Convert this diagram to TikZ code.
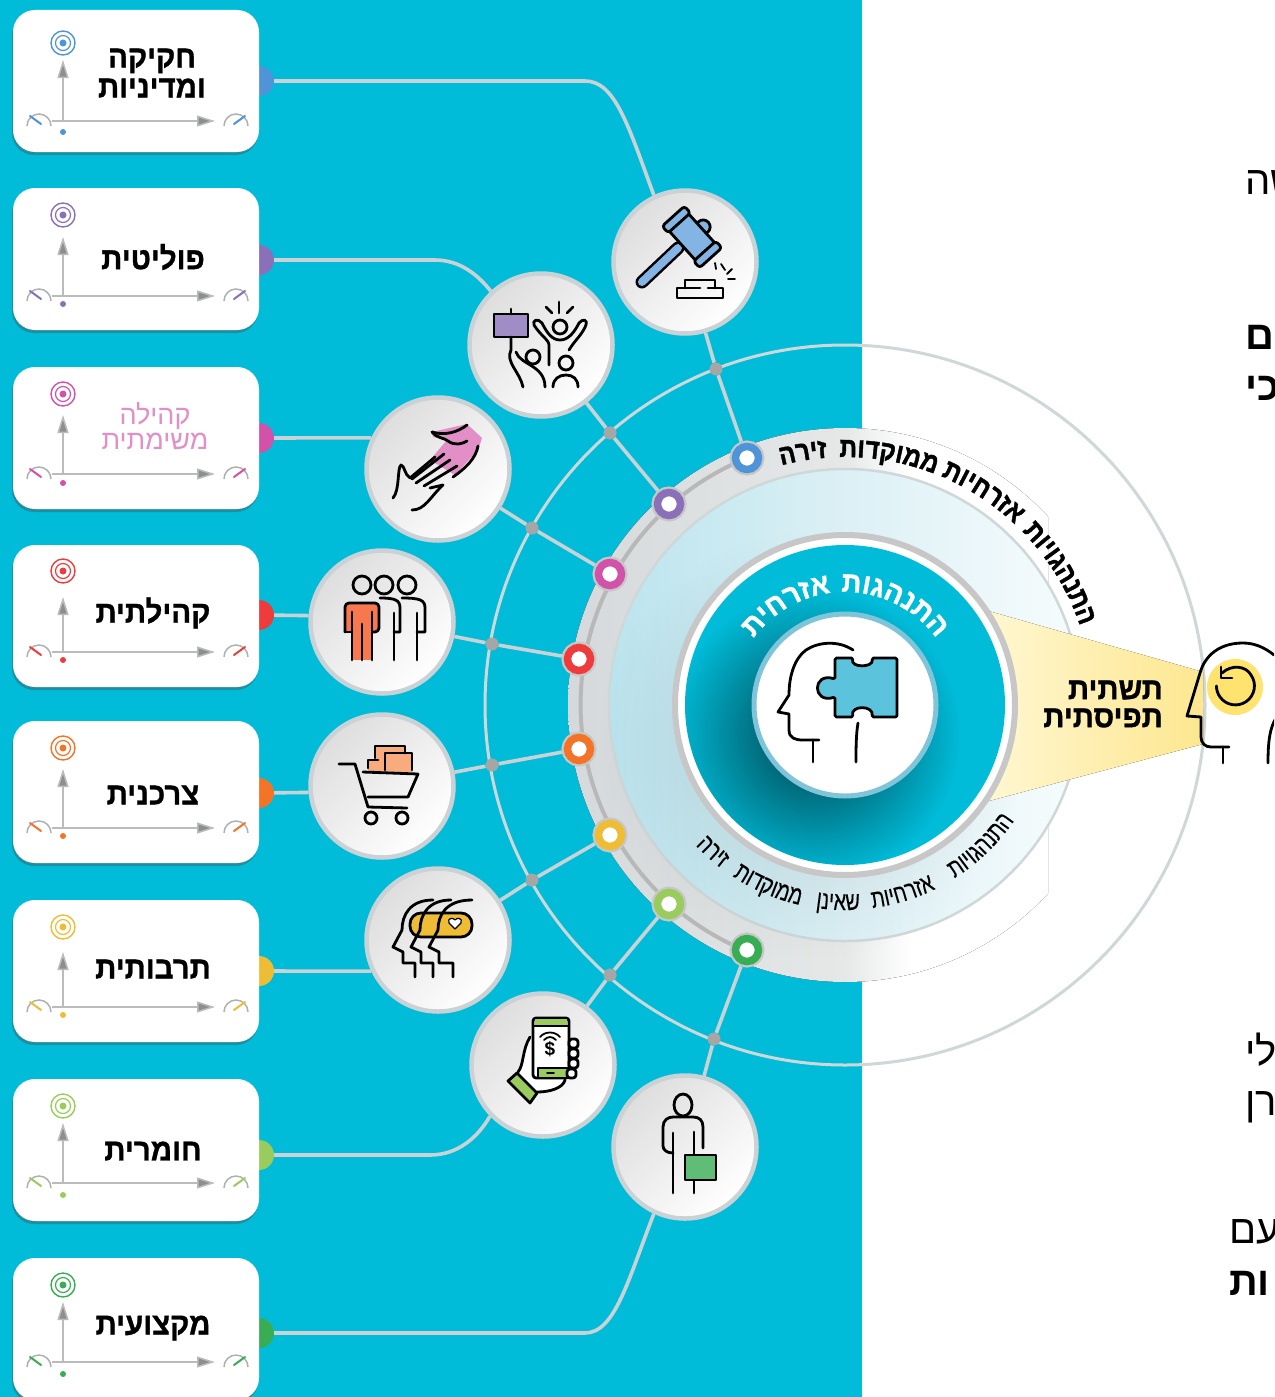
\documentclass[tikz,border=0pt]{standalone}
\usepackage{fontspec}
\setmainfont{Liberation Sans}
\newfontfamily\titlefont[Script=Hebrew,FakeStretch=0.95,FakeBold=1,UprightFont={* Bold}]{Liberation Sans}
\newfontfamily\bandfont[Script=Hebrew,FakeStretch=0.87,FakeBold=1.5,UprightFont={* Bold}]{Liberation Sans}
\newfontfamily\thinfont[Script=Hebrew,FakeStretch=0.76,FakeBold=0.2]{Liberation Sans}
\newfontfamily\plainfont[Script=Hebrew]{Liberation Sans}
\newfontfamily\blackfont[Script=Hebrew,UprightFont={* Bold}]{Liberation Sans}
\usetikzlibrary{arrows.meta,shadows,fadings,decorations.text}
\TeXXeTstate=1
\newcommand{\heb}[1]{\beginR #1\endR}
\definecolor{seablue}{HTML}{00BCD9}
\definecolor{wiregray}{HTML}{CBD2D5}
\definecolor{ringgray}{HTML}{CFD8D8}
\definecolor{arrowgray}{HTML}{8C8E90}
\definecolor{bandL}{HTML}{D5D9DB}
\definecolor{bandM}{HTML}{E6E8E8}
\definecolor{lightL}{HTML}{BBE4EE}
\definecolor{lightM}{HTML}{DCF0F5}
\definecolor{lightR}{HTML}{F7FCFD}
\definecolor{cblue}{HTML}{4F94D8}
\definecolor{cpurple}{HTML}{8A70B8}
\definecolor{cpink}{HTML}{D152A8}
\definecolor{cred}{HTML}{EE3B3B}
\definecolor{corange}{HTML}{F37327}
\definecolor{cyellow}{HTML}{EFBC35}
\definecolor{clime}{HTML}{99CC5C}
\definecolor{cgreen}{HTML}{38AD53}
\definecolor{wedgeL}{HTML}{FFF7D2}
\definecolor{wedgeR}{HTML}{FDE78F}
\definecolor{headyellow}{HTML}{FEE36E}
\definecolor{puzzleblue}{HTML}{5CC3DC}
\definecolor{hubring}{HTML}{7FC4D8}
\pgfdeclarehorizontalshading{bandshade}{100bp}{color(0bp)=(bandL);color(25bp)=(bandL);color(50bp)=(bandM);color(56bp)=(white);color(100bp)=(white)}
\pgfdeclarehorizontalshading{lightshade}{100bp}{color(0bp)=(lightL);color(25bp)=(lightL);color(50bp)=(lightM);color(75bp)=(lightR);color(100bp)=(lightR)}
\tikzfading[name=softfade,inner color=transparent!45,outer color=transparent!100]
\tikzfading[name=darkfade,inner color=transparent!0,outer color=transparent!100]
\newcommand{\arcword}[5]{\path[decorate, decoration={text effects along path, text={#5}, text align=center, text effects/.cd, reverse text, characters={text along path, #4}, character widths={text along path, #4}}] (845,705) ++(#1:#3) arc[start angle=#1,end angle=#2,radius=#3];}
\newcommand{\cardaxes}[6]{%
\coordinate (#1origin) at (63,#3);
\coordinate (#1tip) at (63,#2);
\coordinate (#1left) at (52,#3);
\coordinate (#1right) at (215,#3);
\draw[axisline] (#1origin) -- (#1tip);
\draw[axisline] (#1left) -- (#1right);
\draw[#5,line width=1.4pt] (63,#4) circle (12);
\draw[#5,line width=1.2pt] (63,#4) circle (7.5);
\fill[#5] (63,#4) circle (3.5);
\fill[#5] (63,#6) circle (3);
\draw[gaugeline] (27,#3+5) arc[start angle=180,end angle=360,radius=12];
\draw[gaugeline] (224,#3+5) arc[start angle=180,end angle=360,radius=12];
\draw[#5,line width=2pt,line cap=round] (41,#3+3) -- (30,#3-5);
\draw[#5,line width=2pt,line cap=round] (234,#3+3) -- (245,#3-5);
}
\begin{document}
\begin{tikzpicture}[x=1pt,y=-1pt]
\tikzset{
wire/.style={draw=wiregray, line width=3.6pt},
ringline/.style={draw=ringgray, line width=3pt},
axisline/.style={draw=arrowgray!60, line width=1.5pt, -{Triangle[length=18pt,width=11pt,fill=arrowgray]}},
gaugeline/.style={draw=arrowgray!70, line width=1.5pt},
iconline/.style={draw=black, line width=2.8pt, line cap=round, line join=round},
cardbox/.style={rectangle, fill=white, rounded corners=22pt, minimum width=246pt, minimum height=142pt, general shadow={fill=black!70, opacity=0.4, shadow yshift=-3pt, shadow xshift=-1pt}},
tabdot/.style={circle, fill=#1, minimum size=30pt, inner sep=0pt},
cardtitle/.style={align=center, inner sep=0pt, font=\titlefont\fontsize{31}{30}\selectfont},
iconbox/.style={circle, draw=wiregray, line width=4.5pt, minimum size=143pt, inner sep=0pt, left color=black!13, right color=white, shading angle=45},
junction/.style={circle, fill=black!35, minimum size=13pt, inner sep=0pt},
ringdot/.style={circle, fill=white, draw=#1, line width=7.5pt, minimum size=23pt, inner sep=0pt, outer sep=6pt, preaction={draw=black!22, line width=12pt}},
edgetext/.style={anchor=west, inner sep=0pt, font=\plainfont\fontsize{40}{44}\selectfont},
edgebold/.style={anchor=west, inner sep=0pt, font=\blackfont\fontsize{40}{44}\selectfont}
}
\clip (0,0) rectangle (1274,1397);
\fill[white] (0,0) rectangle (1274,1397);
\fill[seablue] (0,0) rectangle (862,1397);

\draw[ringline] (845,705) circle (360);
\begin{scope}
\clip (0,0) rectangle (1048,1397);
\fill[shading=bandshade] (845,705) circle (277);
\end{scope}
\draw[draw=black!28, line width=4pt] (747,458) arc[start angle=248,end angle=112,radius=266];
\fill[shading=lightshade] (845,705) circle (236);
\draw[draw=ringgray, line width=2.5pt] (845,705) circle (236);
\fill[black, opacity=0.2, path fading=softfade] (810,745) circle (215);
\fill[left color=wedgeL, right color=wedgeR] (985,610) -- (1203,672) -- (1203,744) -- (985,802) -- cycle;
\fill[white] (845,705) circle (169);
\draw[draw=black!22, line width=6pt] (845,705) circle (170);
\fill[seablue] (845,705) circle (160);
\begin{scope}
\clip (845,705) circle (160);
\fill[black!70!seablue, opacity=0.95, path fading=darkfade] (815,735) circle (145);
\end{scope}
\fill[white] (845,705) circle (91);
\draw[draw=hubring, line width=5pt] (845,705) circle (91);

\arcword{220.5}{300.5}{248}{font=\bandfont\fontsize{28}{30}\selectfont}{זירה}
\arcword{240}{320}{248}{font=\bandfont\fontsize{28}{30}\selectfont}{ממוקדות}
\arcword{263}{343}{248}{font=\bandfont\fontsize{28}{30}\selectfont}{אזרחיות}
\arcword{288.5}{368.5}{248}{font=\bandfont\fontsize{28}{30}\selectfont}{התנהגויות}
\arcword{199.5}{279.5}{113}{font=\titlefont\fontsize{29}{33}\selectfont, text=white}{אזרחית}
\arcword{256}{336}{113}{font=\titlefont\fontsize{29}{33}\selectfont, text=white}{התנהגות}
\arcword{86}{6}{205}{font=\thinfont\fontsize{26}{28}\selectfont}{התנהגויות}
\arcword{113}{33}{205}{font=\thinfont\fontsize{26}{28}\selectfont}{אזרחיות}
\arcword{132}{52}{205}{font=\thinfont\fontsize{26}{28}\selectfont}{שאינן}
\arcword{153}{73}{205}{font=\thinfont\fontsize{26}{28}\selectfont}{ממוקדות}
\arcword{172}{92}{205}{font=\thinfont\fontsize{26}{28}\selectfont}{זירה}

\node[tabdot=cblue] (tab1) at (259,81) {};
\node[tabdot=cpurple] (tab2) at (259,260) {};
\node[tabdot=cpink] (tab3) at (259,438) {};
\node[tabdot=cred] (tab4) at (259,615) {};
\node[tabdot=corange] (tab5) at (259,793) {};
\node[tabdot=cyellow] (tab6) at (259,971) {};
\node[tabdot=clime] (tab7) at (259,1155) {};
\node[tabdot=cgreen] (tab8) at (259,1333) {};

\node[cardbox] (card1) at (136,81) {};
\node[cardbox] (card2) at (136,259) {};
\node[cardbox] (card3) at (136,438) {};
\node[cardbox] (card4) at (136,616) {};
\node[cardbox] (card5) at (136,792) {};
\node[cardbox] (card6) at (136,971) {};
\node[cardbox] (card7) at (136,1150) {};
\node[cardbox] (card8) at (136,1329) {};

\cardaxes{a}{60}{121}{43}{cblue}{132}
\cardaxes{b}{237}{296}{215}{cpurple}{304}
\cardaxes{c}{415}{474}{394}{cpink}{483}
\cardaxes{d}{597}{652}{571}{cred}{660}
\cardaxes{e}{769}{828}{748}{corange}{836}
\cardaxes{f}{952}{1007}{927}{cyellow}{1015}
\cardaxes{g}{1123}{1183}{1106}{clime}{1195}
\cardaxes{h}{1302}{1362}{1285}{cgreen}{1374}

\node[cardtitle] (title1) at (152,73) {\heb{חקיקה}\\\heb{ומדיניות}};
\node[cardtitle] (title2) at (153,257) {\heb{פוליטית}};
\node[align=center, inner sep=0pt, text=cpink!65!white, font=\plainfont\fontsize{27}{25}\selectfont] (title3) at (155,426) {\heb{קהילה}\\\heb{משימתית}};
\node[cardtitle] (title4) at (153,613) {\heb{קהילתית}};
\node[cardtitle] (title5) at (153,795) {\heb{צרכנית}};
\node[cardtitle] (title6) at (153,969) {\heb{תרבותית}};
\node[cardtitle] (title7) at (153,1151) {\heb{חומרית}};
\node[cardtitle] (title8) at (153,1328) {\heb{מקצועית}};

\node[iconbox] (icon1) at (685,262) {};
\node[iconbox] (icon2) at (541,345) {};
\node[iconbox] (icon3) at (438,469) {};
\node[iconbox] (icon4) at (382,622) {};
\node[iconbox] (icon5) at (382,786) {};
\node[iconbox] (icon6) at (438,940) {};
\node[iconbox] (icon7) at (543,1065) {};
\node[iconbox] (icon8) at (685,1147) {};

\node[junction] (jun1) at (716,369) {};
\node[junction] (jun2) at (610,433) {};
\node[junction] (jun3) at (532,528) {};
\node[junction] (jun4) at (492,644) {};
\node[junction] (jun5) at (492,765) {};
\node[junction] (jun6) at (532,880) {};
\node[junction] (jun7) at (610,975) {};
\node[junction] (jun8) at (714,1039) {};

\node[ringdot=cblue] (dot1) at (747,458) {};
\node[ringdot=cpurple] (dot2) at (669,504) {};
\node[ringdot=cpink] (dot3) at (610,574) {};
\node[ringdot=cred] (dot4) at (579,659) {};
\node[ringdot=corange] (dot5) at (579,749) {};
\node[ringdot=cyellow] (dot6) at (610,835) {};
\node[ringdot=clime] (dot7) at (669,904) {};
\node[ringdot=cgreen] (dot8) at (747,950) {};

\coordinate (bend1) at (585,81);
\coordinate (bend2) at (435,260);
\coordinate (bend7) at (430,1155);
\coordinate (bend8) at (585,1333);
\draw[wire] (tab1) -- (bend1) .. controls (615,81) and (628,125) .. (icon1.115);
\draw[wire] (tab2) -- (bend2) .. controls (460,260) and (478,275) .. (icon2.133);
\draw[wire] (tab3) -- (icon3.155);
\draw[wire] (tab4) -- (icon4.175);
\draw[wire] (tab5) -- (icon5.185);
\draw[wire] (tab6) -- (icon6.205);
\draw[wire] (tab7) -- (bend7) .. controls (458,1155) and (478,1137) .. (icon7.224);
\draw[wire] (tab8) -- (bend8) .. controls (615,1333) and (628,1280) .. (icon8.245);
\draw[wire] (icon1) -- (jun1) -- (dot1);
\draw[wire] (icon2) -- (jun2) -- (dot2);
\draw[wire] (icon3) -- (jun3) -- (dot3);
\draw[wire] (icon4) -- (jun4) -- (dot4);
\draw[wire] (icon5) -- (jun5) -- (dot5);
\draw[wire] (icon6) -- (jun6) -- (dot6);
\draw[wire] (icon7) -- (jun7) -- (dot7);
\draw[wire] (icon8) -- (jun8) -- (dot8);

\draw[line width=13pt, line cap=round, draw=black] (642,282) -- (678,248);
\draw[line width=8pt, line cap=round, draw=cblue!70!white] (642,282) -- (678,248);
\begin{scope}[rotate around={42:(692,237)}]
\draw[iconline, fill=cblue!70!white] (707,237) circle (7);
\draw[iconline, fill=cblue!70!white, rounded corners=2pt] (679,217) rectangle (705,257);
\draw[iconline, fill=cblue!70!white, rounded corners=3pt] (677,209) rectangle (707,218);
\draw[iconline, fill=cblue!70!white, rounded corners=3pt] (677,256) rectangle (707,265);
\end{scope}
\draw[iconline] (685,288) -- (685,280) -- (715,280) -- (715,288);
\draw[iconline] (700,288) -- (677,288) -- (677,298) -- (723,298) -- (723,288) -- (708,288);
\draw[iconline, line width=1.8pt] (715,263) -- (716,269);
\draw[iconline, line width=1.8pt] (721,264) -- (725,270);
\draw[iconline, line width=1.8pt] (732,269) -- (727,274);
\draw[iconline, line width=1.8pt] (735,279) -- (728,279);

\draw[iconline, fill=cpurple!80!white] (494,314) rectangle (528,337);
\draw[iconline] (511,309) -- (511,314);
\draw[iconline] (511,337) -- (511,350) .. controls (505,362) and (520,372) .. (523,387);
\draw[iconline] (516,352) .. controls (520,365) and (545,365) .. (545,387);
\draw[iconline] (533,357) circle (7);
\draw[iconline] (560,327) circle (7);
\draw[iconline] (549,365) -- (549,345) .. controls (549,340) and (540,335) .. (534,325) .. controls (532,320) and (538,318) .. (542,323) .. controls (547,333) and (552,340) .. (560,340) .. controls (568,340) and (574,333) .. (579,323) .. controls (583,318) and (588,320) .. (586,325) .. controls (582,335) and (575,340) .. (569,350);
\draw[iconline] (559,302) -- (559,313);
\draw[iconline] (546,307) -- (552,313);
\draw[iconline] (573,307) -- (567,313);
\draw[iconline] (566,363) circle (7);
\draw[iconline] (553,387) .. controls (553,379) and (559,375) .. (566,375) .. controls (573,375) and (578,379) .. (578,387);

\fill[cpink!65!white] (467,424) -- (482,438) -- (478,450) -- (455,475) -- (430,460) -- (447,440) -- (433,437) -- (432,432) -- cycle;
\draw[iconline] (432,432) .. controls (445,436) and (458,432) .. (467,425);
\draw[iconline] (432,432) .. controls (436,438) and (445,438) .. (448,441) .. controls (455,446) and (462,444) .. (467,441);
\draw[iconline] (478,446) .. controls (476,458) and (466,468) .. (453,477);
\draw[iconline] (393,498) .. controls (400,490) and (397,468) .. (401,465) .. controls (405,466) and (404,474) .. (410,478) -- (435,457);
\draw[iconline] (412,479) -- (444,454);
\draw[iconline] (416,483) -- (450,460);
\draw[iconline] (424,486) -- (457,466);
\draw[iconline] (412,510) .. controls (425,510) and (430,497) .. (443,485) -- (430,488);

\draw[iconline] (362,585) circle (9);
\draw[iconline] (384,585) circle (9);
\draw[iconline] (407,585) circle (9);
\draw[iconline, fill=cred!60!orange!80!white, rounded corners=4pt] (345,632) -- (345,603) -- (379,603) -- (379,632) -- (372,632);
\fill[cred!60!orange!80!white] (352,610) rectangle (372,660);
\draw[iconline] (352,612) -- (352,660);
\draw[iconline] (362,624) -- (362,660);
\draw[iconline] (372,612) -- (372,660);
\draw[iconline] (352,632) -- (345,632);
\draw[iconline] (380,598) .. controls (395,598) and (400,600) .. (400,608) -- (400,632) -- (394,632);
\draw[iconline] (394,613) -- (394,660);
\draw[iconline] (402,598) .. controls (420,598) and (425,600) .. (425,608) -- (425,632) -- (417,632);
\draw[iconline] (417,613) -- (417,660);

\fill[corange!60!white] (375,746) rectangle (405,760);
\fill[corange!60!white] (368,760) rectangle (412,772);
\fill[corange!60!white] (385,753) rectangle (412,772);
\draw[iconline] (368,768) -- (368,760) -- (378,760);
\draw[iconline] (375,758) -- (375,746) -- (405,746) -- (405,753);
\draw[iconline] (385,770) -- (385,753) -- (412,753) -- (412,770);
\draw[iconline] (339,764) -- (355,764) -- (368,807) -- (407,808);
\draw[iconline] (363,772) -- (418,774) -- (408,797) -- (368,797);
\draw[iconline] (371,818) circle (6);
\draw[iconline] (402,818) circle (6);

\draw[iconline, fill=cyellow, rounded corners=11pt] (410,913) rectangle (472,937);
\fill[white] (455,929) -- (449,923) .. controls (447,918) and (453,917) .. (455,920) .. controls (457,917) and (463,918) .. (461,923) -- cycle;
\draw[black, line width=1.2pt, line join=round] (455,929) -- (449,923) .. controls (447,918) and (453,917) .. (455,920) .. controls (457,917) and (463,918) .. (461,923) -- cycle;
\draw[iconline] (433,900) .. controls (410,900) and (402,915) .. (402,930) -- (393,947) -- (403,952) -- (403,963) -- (415,963) -- (415,977);
\draw[iconline] (451,900) .. controls (428,900) and (420,915) .. (420,930) -- (411,947) -- (421,952) -- (421,963) -- (433,963) -- (433,977);
\draw[iconline] (472,900) .. controls (446,900) and (438,915) .. (438,930) -- (429,947) -- (439,952) -- (439,963) -- (453,963) -- (453,977);

\fill[white] (530,1037) .. controls (522,1050) and (522,1065) .. (518,1072) -- (537,1092) .. controls (550,1092) and (563,1088) .. (565,1080) -- (570,1040) -- cycle;
\draw[iconline, fill=white, rounded corners=3pt] (533,1018) rectangle (569,1078);
\fill[clime] (535,1019) rectangle (567,1025);
\draw[iconline] (534,1026) -- (568,1026);
\draw[iconline, fill=clime] (538,1068) rectangle (568,1078);
\draw[iconline, line width=1.8pt] (547,1073) -- (554,1073);
\node[inner sep=0pt, font=\blackfont\fontsize{19}{19}\selectfont] (paysign) at (550,1049) {\$};
\draw[iconline, line width=1.8pt] (540,1037) .. controls (545,1031) and (555,1031) .. (560,1037);
\draw[iconline, line width=1.8pt] (544,1040) .. controls (548,1036) and (552,1036) .. (556,1040);
\draw[iconline, fill=white, rounded corners=3pt] (569,1039) rectangle (578,1048);
\draw[iconline, fill=white, rounded corners=3pt] (569,1049) rectangle (578,1058);
\draw[iconline, fill=white, rounded corners=3pt] (569,1059) rectangle (578,1068);
\draw[iconline, fill=white, rounded corners=3pt] (567,1069) rectangle (576,1078);
\draw[iconline] (530,1037) .. controls (522,1050) and (524,1065) .. (518,1072);
\draw[iconline] (537,1092) .. controls (550,1092) and (563,1088) .. (565,1080);
\draw[iconline, fill=clime] (508,1081) -- (517,1073) -- (537,1093) -- (530,1103) -- cycle;

\draw[iconline] (683,1105) ellipse (9 and 11);
\draw[iconline] (673,1153) .. controls (667,1153) and (663,1150) .. (663,1146) -- (663,1127) .. controls (663,1120) and (668,1117) .. (673,1117) -- (693,1117) .. controls (699,1117) and (703,1120) .. (703,1127) -- (703,1148);
\draw[iconline] (673,1133) -- (673,1193);
\draw[iconline] (694,1132) -- (694,1155);
\draw[iconline] (694,1180) -- (694,1193);
\draw[iconline, fill=cgreen!80!white] (685,1155) rectangle (716,1180);

\draw[iconline, fill=puzzleblue, rounded corners=1.5pt] (835,658) -- (853,658) .. controls (850,668) and (874,668) .. (872,658) -- (897,658) -- (897,717) -- (872,717) .. controls (874,705) and (850,705) .. (853,717) -- (835,717) -- (835,697) .. controls (812,704) and (812,672) .. (835,679) -- cycle;
\draw[iconline] (853,650) .. controls (838,640) and (818,642) .. (806,650) .. controls (795,658) and (789,675) .. (789,695) -- (778,712) -- (789,714) -- (789,730) .. controls (789,738) and (795,740) .. (803,740) -- (819,740);
\draw[iconline] (813,740) -- (813,762);
\draw[iconline] (858,723) .. controls (856,735) and (856,748) .. (856,762);

\fill[headyellow] (1235,687) circle (28);
\draw[iconline] (1222,673) .. controls (1232,664) and (1246,666) .. (1251,675) arc[start angle=-35,end angle=180,radius=19];
\draw[iconline] (1221,667) -- (1221,678) -- (1232,678);
\draw[iconline] (1274,655) .. controls (1264,647) and (1254,643) .. (1243,643) .. controls (1220,643) and (1205,655) .. (1200,673) -- (1187,716) -- (1201,717) -- (1201,737) .. controls (1201,743) and (1205,747) .. (1211,747) -- (1229,747);
\draw[iconline] (1223,747) -- (1223,763);
\draw[iconline] (1276,718) .. controls (1270,728) and (1268,740) .. (1268,763);

\node[align=right, inner sep=0pt, anchor=east, font=\titlefont\fontsize{31}{28}\selectfont] (mindset) at (1163,704) {\heb{תשתית}\\\heb{תפיסתית}};

\node[edgetext] (edge1) at (1245,183) {\heb{שה}};
\node[edgebold] (edge2) at (1245,337) {\heb{ם}};
\node[edgebold] (edge3) at (1245,388) {\heb{כי}};
\node[edgetext] (edge4) at (1245,1050) {\heb{לי}};
\node[edgetext] (edge5) at (1245,1107) {\heb{רן}};
\node[edgetext] (edge6) at (1229,1232) {\heb{עם}};
\node[edgebold] (edge7) at (1229,1283) {\heb{ות}};
\end{tikzpicture}
\end{document}
